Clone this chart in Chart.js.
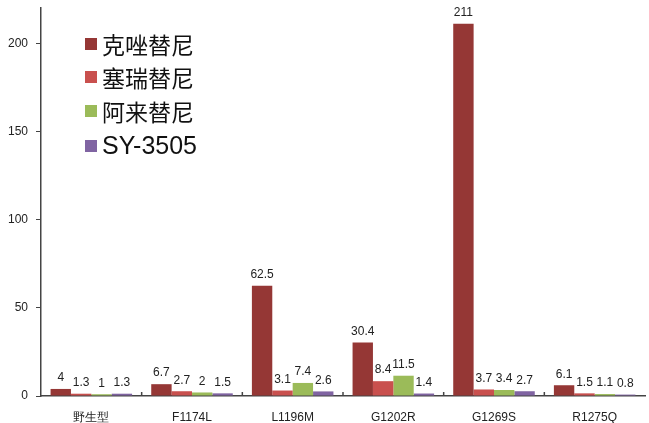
<!DOCTYPE html>
<html>
<head>
<meta charset="utf-8">
<script src="https://cdn.jsdelivr.net/npm/chart.js@4"></script>
<style>
  html, body { margin: 0; padding: 0; background: #fff; }
  #wrap { width: 649px; height: 423px; }
</style>
</head>
<body>
<div id="wrap"><canvas id="grafico"></canvas></div>
<script>
// Categorías y series
const mutaciones = ['野生型', 'F1174L', 'L1196M', 'G1202R', 'G1269S', 'R1275Q'];
const farmacos = ['克唑替尼', '塞瑞替尼', '阿来替尼', 'SY-3505'];
const crizotinib = [4, 6.7, 62.5, 30.4, 211, 6.1];
const ceritinib = [1.3, 2.7, 3.1, 8.4, 3.7, 1.5];
const alectinib = [1, 2, 7.4, 11.5, 3.4, 1.1];
const sy3505 = [1.3, 1.5, 2.6, 1.4, 2.7, 0.8];
const ticksY = [0, 50, 100, 150, 200];

const colores = ['#953735', '#c9504e', '#9bbb59', '#8064a2'];
const series = [crizotinib, ceritinib, alectinib, sy3505];

// Valores encima de cada barra
const etiquetas = {
    id: 'etiquetas',
    afterDatasetsDraw(chart) {
        const ctx = chart.ctx;
        ctx.save();
        ctx.font = '12px "Liberation Sans", Arial, sans-serif';
        ctx.fillStyle = '#222';
        ctx.textAlign = 'center';
        ctx.textBaseline = 'bottom';
        chart.data.datasets.forEach((ds, i) => {
            chart.getDatasetMeta(i).data.forEach((bar, j) => {
                ctx.fillText(String(ds.data[j]), bar.x, bar.y - 5);
            });
        });
        ctx.restore();
    }
};

// Leyenda dentro del área del gráfico
const leyenda = {
    id: 'leyenda',
    afterDraw(chart) {
        const ctx = chart.ctx;
        const x0 = 85;
        const filas = [44, 77, 111, 146];
        ctx.save();
        ctx.textBaseline = 'middle';
        chart.data.datasets.forEach((ds, i) => {
            const y = filas[i];
            ctx.fillStyle = ds.backgroundColor;
            ctx.fillRect(x0, y - 6, 12, 12);
            ctx.fillStyle = '#111';
            ctx.font = i === 3 ? '25px "Liberation Sans", Arial, sans-serif'
                               : '23px "Noto Sans CJK SC", sans-serif';
            ctx.fillText(ds.label, x0 + 17, y + 1);
        });
        ctx.restore();
    }
};

// Marcas cortas del eje X entre categorías, hacia dentro
const marcasX = {
    id: 'marcasX',
    afterDraw(chart) {
        const x = chart.scales.x;
        const ctx = chart.ctx;
        const base = chart.chartArea.bottom;
        ctx.save();
        ctx.strokeStyle = '#444';
        ctx.lineWidth = 1.5;
        for (let i = 1; i < mutaciones.length; i++) {
            const px = (x.getPixelForTick(i - 1) + x.getPixelForTick(i)) / 2;
            ctx.beginPath();
            ctx.moveTo(px, base - 4);
            ctx.lineTo(px, base);
            ctx.stroke();
        }
        ctx.restore();
    }
};

new Chart(document.getElementById('grafico'), {
    type: 'bar',
    data: {
        labels: mutaciones,
        datasets: farmacos.map((f, i) => ({
            label: f,
            data: series[i],
            backgroundColor: colores[i],
            categoryPercentage: 0.81,
            barPercentage: 1
        }))
    },
    options: {
        responsive: true,
        maintainAspectRatio: false,
        animation: false,
        layout: { padding: { top: 8, right: 4, left: 0, bottom: 0 } },
        plugins: {
            legend: { display: false },
            tooltip: { enabled: false }
        },
        scales: {
            x: {
                grid: { display: false },
                border: { color: '#444', width: 1.5 },
                ticks: {
                    color: '#222',
                    padding: 6,
                    font: { size: 12, family: '"Liberation Sans", Arial, sans-serif' }
                },
                afterFit(scale) { scale.height = 27; }
            },
            y: {
                min: 0,
                max: 220,
                afterBuildTicks(scale) {
                    scale.ticks = ticksY.map(v => ({ value: v }));
                },
                grid: {
                    display: true,
                    drawOnChartArea: false,
                    tickLength: 5,
                    color: '#444'
                },
                border: { color: '#444', width: 1.5 },
                ticks: {
                    color: '#222',
                    padding: 8,
                    font: { size: 12, family: '"Liberation Sans", Arial, sans-serif' }
                },
                afterFit(scale) {
                    scale.width = 41;
                    scale.paddingTop = 0;
                    scale.paddingBottom = 0;
                }
            }
        }
    },
    plugins: [etiquetas, leyenda, marcasX]
});
</script>
</body>
</html>
